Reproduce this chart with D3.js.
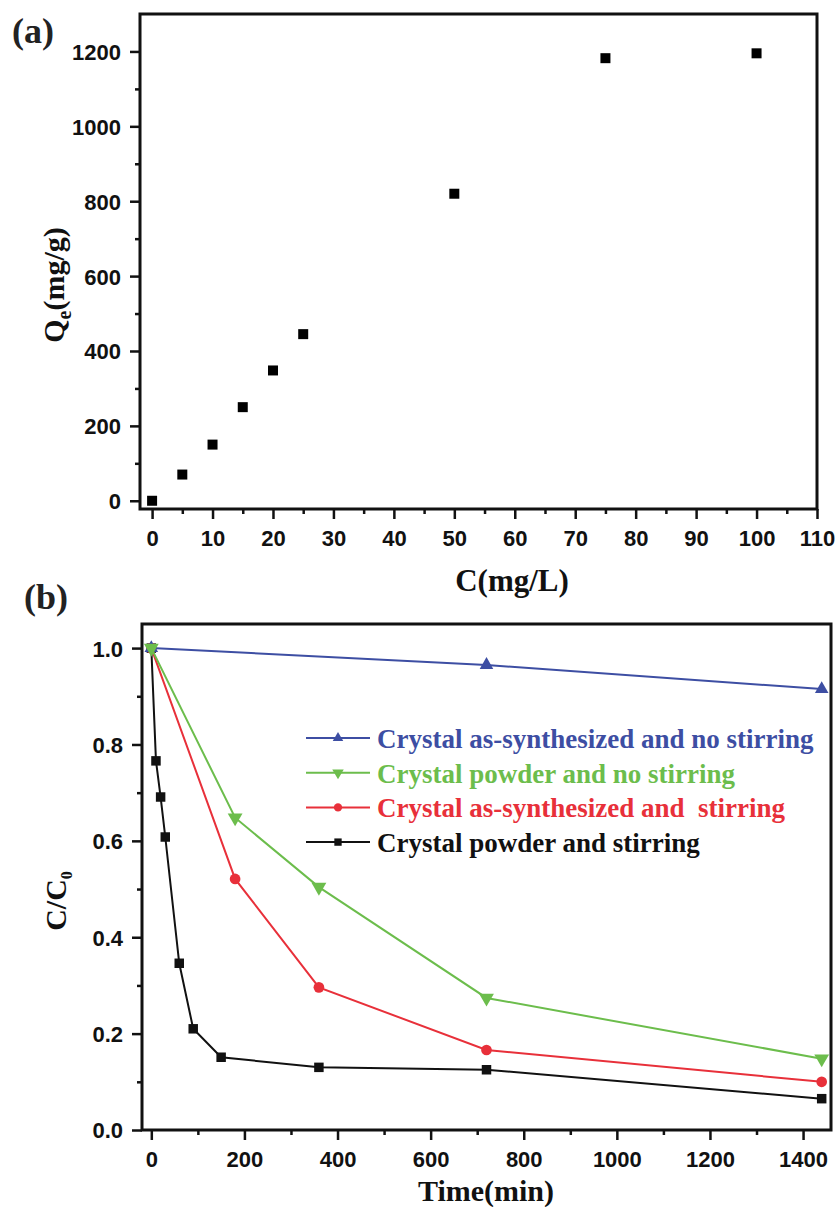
<!DOCTYPE html>
<html>
<head>
<meta charset="utf-8">
<script src="https://cdn.jsdelivr.net/npm/d3@7"></script>
<style>
  html, body { margin: 0; padding: 0; background: #fff; }
  svg { display: block; }
  .tick text { font-family: "Liberation Sans", Arial, sans-serif; font-weight: bold; font-size: 22px; fill: #111; }
  .serif { font-family: "Liberation Serif", "Times New Roman", serif; font-weight: bold; white-space: pre; }
</style>
</head>
<body>
<script>
// ---------- Panel (a) data ----------
const concValues = [0, 5, 10, 15, 20, 25, 50, 75, 100];
const qeValues   = [0, 70, 150, 250, 348, 445, 820, 1182, 1195];
const concTicks  = [0, 10, 20, 30, 40, 50, 60, 70, 80, 90, 100, 110];
const concMinor  = [5, 15, 25, 35, 45, 55, 65, 75, 85, 95, 105];
const qeTicks    = [0, 200, 400, 600, 800, 1000, 1200];
const qeMinor    = [100, 300, 500, 700, 900, 1100];

// ---------- Panel (b) data ----------
const seriesNames = [
  "Crystal as-synthesized and no stirring",
  "Crystal powder and no stirring",
  "Crystal as-synthesized and  stirring",
  "Crystal powder and stirring"
];
const timeBlue  = [0, 720, 1440];
const valsBlue  = [1.0, 0.965, 0.915];
const timeGreen = [0, 180, 360, 720, 1440];
const valsGreen = [1.0, 0.648, 0.504, 0.274, 0.148];
const timeRed   = [0, 180, 360, 720, 1440];
const valsRed   = [1.0, 0.521, 0.296, 0.166, 0.100];
const timeBlack = [0, 10, 20, 30, 60, 90, 150, 360, 720, 1440];
const valsBlack = [1.0, 0.766, 0.691, 0.608, 0.346, 0.210, 0.151, 0.130, 0.125, 0.065];
const timeTicks = [0, 200, 400, 600, 800, 1000, 1200, 1400];
const timeMinor = [100, 300, 500, 700, 900, 1100, 1300];
const ratioTicks = [0, 0.2, 0.4, 0.6, 0.8, 1.0];
const ratioMinor = [0.1, 0.3, 0.5, 0.7, 0.9];

const W = 838, H = 1207;
const svg = d3.select("body").append("svg").attr("width", W).attr("height", H);

function drawAxes(g, x, y, xt, xm, yt, ym, yfmt) {
  const xr = x.range(), yr = y.range();
  const bottom = yr[0], left = xr[0];
  const ax = g.append("g").attr("transform", `translate(0,${bottom})`)
    .call(d3.axisBottom(x).tickValues(xt).tickSize(10).tickFormat(d3.format("d")));
  ax.select(".domain").remove();
  ax.selectAll(".tick line").attr("stroke", "#111").attr("stroke-width", 2.5);
  ax.selectAll(".tick text").attr("y", 37).attr("dy", 0);
  const axm = g.append("g").attr("transform", `translate(0,${bottom})`)
    .call(d3.axisBottom(x).tickValues(xm).tickSize(5).tickFormat(""));
  axm.select(".domain").remove();
  axm.selectAll(".tick line").attr("stroke", "#111").attr("stroke-width", 2.5);
  const ay = g.append("g").attr("transform", `translate(${left},0)`)
    .call(d3.axisLeft(y).tickValues(yt).tickSize(10).tickFormat(yfmt));
  ay.select(".domain").remove();
  ay.selectAll(".tick line").attr("stroke", "#111").attr("stroke-width", 2.5);
  ay.selectAll(".tick text").attr("x", -19).attr("dy", "0.36em");
  const aym = g.append("g").attr("transform", `translate(${left},0)`)
    .call(d3.axisLeft(y).tickValues(ym).tickSize(5).tickFormat(""));
  aym.select(".domain").remove();
  aym.selectAll(".tick line").attr("stroke", "#111").attr("stroke-width", 2.5);
  g.append("rect")
    .attr("x", xr[0]).attr("y", yr[1])
    .attr("width", xr[1] - xr[0]).attr("height", yr[0] - yr[1])
    .attr("fill", "none").attr("stroke", "#111").attr("stroke-width", 3);
}

// ================= Panel (a) =================
const gA = svg.append("g");
const xA = d3.scaleLinear().domain([-2, 110]).range([140, 817]);
const yA = d3.scaleLinear().domain([-22, 1300]).range([509, 14]);
drawAxes(gA, xA, yA, concTicks, concMinor, qeTicks, qeMinor, d3.format("d"));

gA.append("g").selectAll("path")
  .data(concValues.map((c, i) => [c, qeValues[i]]))
  .join("path")
  .attr("transform", d => `translate(${xA(d[0])},${yA(d[1])})`)
  .attr("d", d3.symbol(d3.symbolSquare, 100)())
  .attr("fill", "#000");

svg.append("text").attr("class", "serif").attr("x", 12).attr("y", 43)
  .attr("font-size", 36).attr("fill", "#222").text("(a)");
svg.append("text").attr("class", "serif").attr("x", 512).attr("y", 591)
  .attr("text-anchor", "middle").attr("font-size", 31).attr("fill", "#111").text("C(mg/L)");
const qeLab = svg.append("text").attr("class", "serif")
  .attr("transform", "translate(64,285) rotate(-90)")
  .attr("text-anchor", "middle").attr("font-size", 30).attr("fill", "#111");
qeLab.append("tspan").text("Q");
qeLab.append("tspan").attr("font-size", 20).attr("dy", 7).text("e");
qeLab.append("tspan").attr("dy", -7).text("(mg/g)");

// ================= Panel (b) =================
const gB = svg.append("g");
const xB = d3.scaleLinear().domain([-20, 1460]).range([142, 831]);
const yB = d3.scaleLinear().domain([0, 1.05]).range([1130, 624]);
drawAxes(gB, xB, yB, timeTicks, timeMinor, ratioTicks, ratioMinor, d3.format(".1f"));

const series = [
  { name: seriesNames[3], t: timeBlack, v: valsBlack, color: "#111111", sym: d3.symbolSquare, size: 90, rot: 0 },
  { name: seriesNames[2], t: timeRed,   v: valsRed,   color: "#e8303a", sym: d3.symbolCircle, size: 90, rot: 0 },
  { name: seriesNames[0], t: timeBlue,  v: valsBlue,  color: "#3d4ea3", sym: d3.symbolTriangle, size: 80, rot: 0 },
  { name: seriesNames[1], t: timeGreen, v: valsGreen, color: "#6cbd4c", sym: d3.symbolTriangle, size: 95, rot: 180 }
];

const line = d3.line().x(d => xB(d[0])).y(d => yB(d[1]));
series.forEach(s => {
  const pts = s.t.map((t, i) => [t, s.v[i]]);
  gB.append("path").datum(pts).attr("d", line)
    .attr("fill", "none").attr("stroke", s.color).attr("stroke-width", 2);
  gB.append("g").selectAll("path").data(pts).join("path")
    .attr("transform", d => `translate(${xB(d[0])},${yB(d[1])}) rotate(${s.rot})`)
    .attr("d", d3.symbol(s.sym, s.size)())
    .attr("fill", s.color);
});

const legendOrder = [series[2], series[3], series[1], series[0]];
const lg = gB.append("g");
legendOrder.forEach((s, i) => {
  const ly = 738 + i * 34.7;
  lg.append("line").attr("x1", 306).attr("x2", 370).attr("y1", ly).attr("y2", ly)
    .attr("stroke", s.color).attr("stroke-width", 2);
  lg.append("path").attr("transform", `translate(338,${ly}) rotate(${s.rot})`)
    .attr("d", d3.symbol(s.sym, s.size * 0.6)()).attr("fill", s.color);
  lg.append("text").attr("class", "serif").attr("x", 377).attr("y", ly + 10)
    .attr("font-size", 27).attr("fill", s.color).text(s.name);
});

svg.append("text").attr("class", "serif").attr("x", 24).attr("y", 609)
  .attr("font-size", 36).attr("fill", "#222").text("(b)");
svg.append("text").attr("class", "serif").attr("x", 486).attr("y", 1201)
  .attr("text-anchor", "middle").attr("font-size", 30).attr("fill", "#111").text("Time(min)");
const ccLab = svg.append("text").attr("class", "serif")
  .attr("transform", "translate(66,901) rotate(-90)")
  .attr("text-anchor", "middle").attr("font-size", 30).attr("fill", "#111");
ccLab.append("tspan").text("C/C");
ccLab.append("tspan").attr("font-size", 16).attr("dy", 6).text("0");
</script>
</body>
</html>
